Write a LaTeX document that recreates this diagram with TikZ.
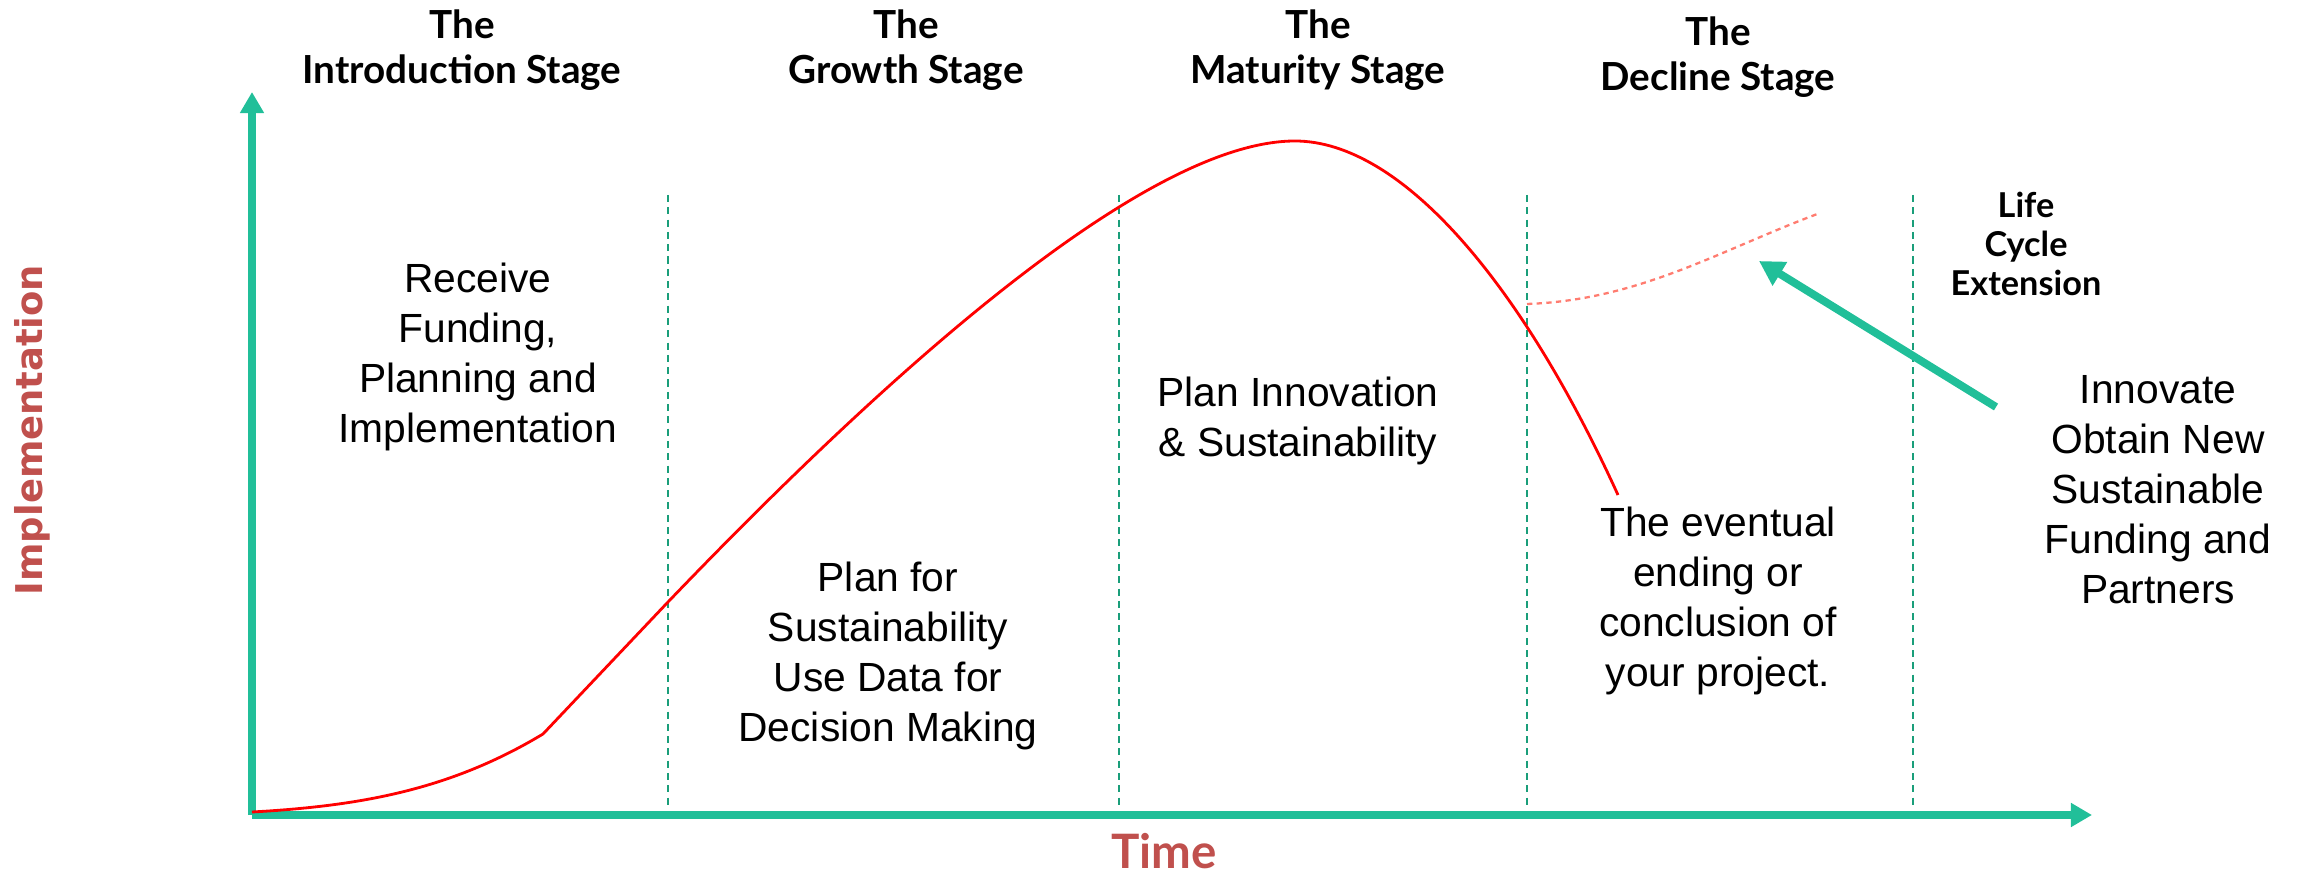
\documentclass[tikz,border=0pt]{standalone}
\usepackage{fontspec}
\setmainfont{Liberation Sans}
\newfontfamily\headfont{Lato}
\newfontfamily\axisfont{DejaVu Sans}
\usetikzlibrary{arrows.meta}
\definecolor{axisteal}{HTML}{21BF99}
\definecolor{gridteal}{HTML}{1A9E7A}
\definecolor{labelred}{HTML}{C0504D}
\definecolor{extpink}{HTML}{FF7C70}
\tikzset{
  stagehead/.style={align=center, font=\headfont\bfseries\fontsize{22}{26}\selectfont},
  note/.style={align=center, font=\fontsize{23.2}{28.5}\selectfont},
  axisline/.style={axisteal, line width=4pt, -{Triangle[length=12pt,width=13pt]}},
  divider/.style={gridteal, line width=0.8pt, dash pattern=on 4pt off 3pt},
}
\begin{document}
\begin{tikzpicture}[x=0.02cm, y=-0.02cm]
  \useasboundingbox (0,0) rectangle (2302,874);
  % axes
  \coordinate (origin) at (252,815);
  \coordinate (ytip) at (252,92);
  \coordinate (xtip) at (2092,815);
  \draw[axisline] (origin) -- (ytip);
  \draw[axisline] (origin) -- (xtip);
  \node[rotate=90, text=labelred, font=\axisfont\bfseries\fontsize{21}{25}\selectfont] (ylabel) at (32,430) {Implementation};
  \node[text=labelred, font=\headfont\bfseries\fontsize{27}{30}\selectfont] (xlabel) at (1164,851) {Time};
  % stage dividers
  \foreach \x in {668,1119,1527,1913}
    \draw[divider] (\x,195) -- (\x,807);
  % life cycle curve
  \draw[red, line width=1.6pt] (252,812) .. controls (360,806) and (450,790) .. (543,734)
    -- (668,602) .. controls (900,360) and (1150,141) .. (1295,141)
    .. controls (1400,141) and (1520,280) .. (1618,495);
  % extension
  \draw[extpink, line width=1.3pt, dash pattern=on 3pt off 2.5pt] (1527,304)
    .. controls (1640,300) and (1720,250) .. (1820,213);
  \coordinate (push) at (1996,407);
  \coordinate (lift) at (1759,261);
  \draw[axisteal, line width=4.5pt, -{Triangle[length=14pt,width=15pt]}] (push) -- (lift);
  % stage titles
  \node[stagehead] (intro) at (462,50) {The\\Introduction Stage};
  \node[stagehead] (growth) at (906,50) {The\\Growth Stage};
  \node[stagehead] (maturity) at (1318,50) {The\\Maturity Stage};
  \node[stagehead] (decline) at (1718,57) {The\\Decline Stage};
  \node[stagehead, font=\headfont\bfseries\fontsize{19.5}{22}\selectfont] (extension) at (2026,244) {Life\\Cycle\\Extension};
  % stage notes
  \node[note] (receive) at (478,357) {Receive\\Funding,\\Planning and\\Implementation};
  \node[note] (plansust) at (888,656) {Plan for\\Sustainability\\Use Data for\\Decision Making};
  \node[note] (innov) at (1298,421) {Plan Innovation\\\& Sustainability};
  \node[note] (ending) at (1718,601) {The eventual\\ending or\\conclusion of\\your project.};
  \node[note] (obtain) at (2158,490) {Innovate\\Obtain New\\Sustainable\\Funding and\\Partners};
\end{tikzpicture}
\end{document}
